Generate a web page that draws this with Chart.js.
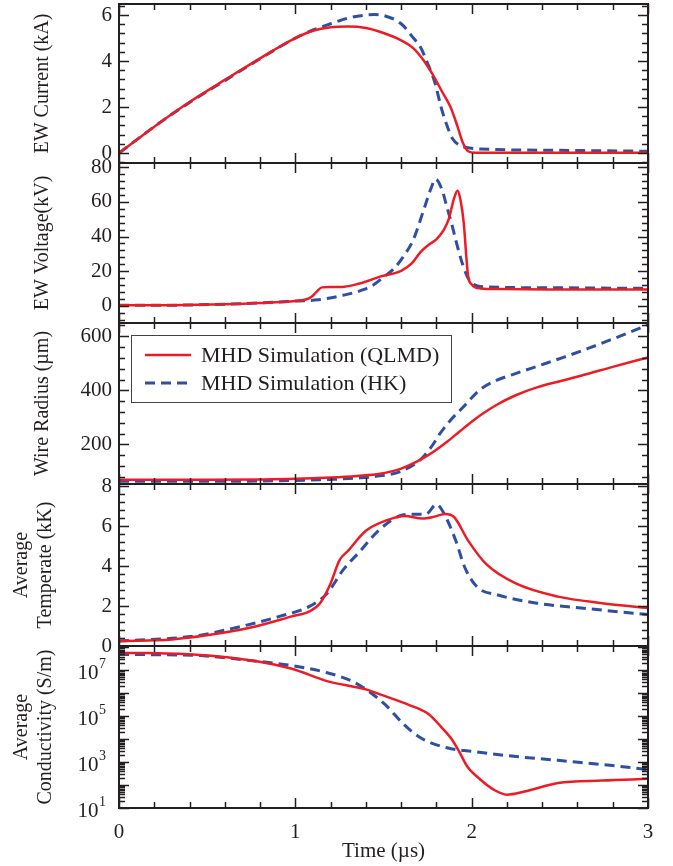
<!DOCTYPE html>
<html>
<head>
<meta charset="utf-8">
<script src="https://cdn.jsdelivr.net/npm/chart.js@4.4.0/dist/chart.umd.min.js"></script>
<style>
  body { margin: 0; background: #fff; width: 673px; height: 866px; overflow: hidden; }
  canvas { position: absolute; left: 0; }
</style>
</head>
<body>
<script>
// time axis (µs)
const xTicks = [0, 1, 2, 3];

// EW current (kA)
const tCurQ = [0, 0.2, 0.4, 0.6, 0.8, 1.0, 1.1, 1.2, 1.3, 1.4, 1.5, 1.6, 1.67, 1.73, 1.78, 1.83, 1.88, 1.92, 1.95, 1.98, 2.02, 2.2, 2.6, 3.0];
const curQ  = [0, 1.15, 2.22, 3.18, 4.12, 5.0, 5.32, 5.47, 5.5, 5.44, 5.22, 4.9, 4.55, 4.0, 3.4, 2.7, 2.0, 1.15, 0.45, 0.08, 0.02, 0.02, 0.02, 0.02];
const tCurH = [0, 0.2, 0.4, 0.6, 0.8, 1.0, 1.1, 1.2, 1.3, 1.4, 1.45, 1.5, 1.6, 1.67, 1.71, 1.75, 1.79, 1.83, 1.86, 1.89, 1.93, 1.97, 2.05, 2.5, 3.0];
const curH  = [0, 1.15, 2.2, 3.15, 4.1, 5.0, 5.35, 5.62, 5.87, 6.0, 6.02, 5.98, 5.62, 5.0, 4.6, 3.9, 3.1, 1.9, 1.2, 0.65, 0.35, 0.24, 0.18, 0.12, 0.08];
const curTicks = [0, 2, 4, 6];

// EW voltage (kV)
const tVolQ = [0, 0.3, 0.6, 0.8, 1.0, 1.06, 1.09, 1.12, 1.15, 1.2, 1.28, 1.34, 1.41, 1.48, 1.6, 1.66, 1.71, 1.76, 1.8, 1.84, 1.87, 1.9, 1.92, 1.935, 1.955, 1.97, 1.98, 2.0, 2.05, 2.15, 2.5, 3.0];
const volQ  = [0.2, 0.3, 0.8, 1.5, 2.7, 3.6, 5, 8, 10.6, 10.8, 11, 12.2, 14.3, 16.8, 20.2, 24.5, 31, 35.5, 38.4, 43.5, 50, 62, 66.4, 62, 48, 28, 17, 12.3, 10, 9.6, 9.4, 9.3];
const tVolH = [0, 0.3, 0.6, 0.8, 1.0, 1.13, 1.27, 1.39, 1.45, 1.5, 1.56, 1.62, 1.67, 1.73, 1.77, 1.795, 1.83, 1.86, 1.89, 1.92, 1.95, 1.99, 2.07, 2.4, 3.0];
const volH  = [0.2, 0.3, 0.9, 1.6, 2.7, 3.4, 6.0, 9.4, 12.5, 16.5, 21.5, 29.5, 38.4, 56, 68, 73.2, 67.5, 57, 46, 34, 23.5, 14.3, 11, 10.4, 10];
const volTicks = [0, 20, 40, 60, 80];

// wire radius (µm)
const tRadQ = [0, 0.5, 0.8, 1.0, 1.2, 1.35, 1.48, 1.6, 1.71, 1.79, 1.86, 1.93, 2.0, 2.07, 2.14, 2.25, 2.37, 2.5, 2.62, 2.8, 3.0];
const radQ  = [70, 70, 71, 73, 78, 84, 92, 111, 144, 176, 210, 247, 284, 317, 346, 382, 411, 434, 454, 487, 522];
const tRadH = [0, 0.5, 0.8, 1.0, 1.2, 1.35, 1.48, 1.6, 1.71, 1.77, 1.82, 1.88, 1.94, 2.05, 2.14, 2.24, 2.38, 2.52, 2.66, 2.8, 3.0];
const radH  = [64, 64, 65, 67, 71, 76, 84, 101, 144, 190, 240, 290, 330, 404, 437, 460, 491, 522, 555, 590, 642];
const radTicks = [200, 400, 600];

// average temperature (kK)
const tTemQ = [0, 0.3, 0.59, 0.78, 0.98, 1.08, 1.14, 1.2, 1.25, 1.3, 1.4, 1.52, 1.62, 1.72, 1.79, 1.85, 1.9, 1.98, 2.08, 2.25, 2.49, 2.74, 3.0];
const temQ  = [0.25, 0.33, 0.66, 0.99, 1.48, 1.73, 2.14, 3.13, 4.28, 4.77, 5.76, 6.29, 6.5, 6.37, 6.47, 6.6, 6.45, 5.27, 4.12, 3.13, 2.47, 2.14, 1.9];
const tTemH = [0, 0.42, 0.66, 0.91, 1.08, 1.18, 1.27, 1.37, 1.47, 1.59, 1.66, 1.74, 1.8, 1.835, 1.91, 1.96, 2.03, 2.15, 2.37, 2.62, 3.0];
const temH  = [0.25, 0.49, 0.91, 1.48, 1.98, 2.63, 3.79, 4.77, 5.76, 6.5, 6.59, 6.59, 7.08, 6.75, 5.27, 3.95, 2.96, 2.55, 2.14, 1.9, 1.57];
const temTicks = [0, 2, 4, 6, 8];

// average conductivity (S/m)
const tConQ = [0, 0.42, 0.78, 0.98, 1.18, 1.4, 1.48, 1.64, 1.76, 1.824, 1.889, 1.93, 1.974, 2.049, 2.125, 2.2, 2.3, 2.49, 2.74, 3.0];
const conQ  = [5.9e7, 4.9e7, 2.5e7, 1.17e7, 3.4e6, 1.48e6, 8.9e5, 3.2e5, 1.17e5, 3.6e4, 9.5e3, 2.8e3, 660, 174, 63, 38, 52, 123, 158, 186];
const tConH = [0, 0.42, 0.78, 0.98, 1.18, 1.32, 1.4, 1.51, 1.615, 1.71, 1.86, 2.0, 2.24, 2.49, 2.62, 2.8, 3.0];
const conH  = [4.9e7, 4.5e7, 2.5e7, 1.62e7, 7.9e6, 3.4e6, 1.48e6, 3.2e5, 4.4e4, 1.15e4, 4.2e3, 2.95e3, 1.78e3, 1.2e3, 955, 708, 468];
const conTicks = [1e1, 1e3, 1e5, 1e7];

const RED = '#ed1c24';
const BLUE = '#2e4fa2';
const INK = '#231f20';
const FONT = '"Liberation Serif", "Times New Roman", serif';

// panel edges (px) and extra room round each canvas
const E = [4, 163, 323, 484, 646, 808];
const PAD = 14;

const pts = (t, v) => t.map((x, i) => ({ x: x, y: v[i] }));

// frame with inward ticks, log tick labels and boxed legend
const frame = {
  id: 'frame',
  afterDatasetsDraw(chart, args, o) {
    const { ctx, chartArea: a, scales: { x, y } } = chart;
    ctx.save();
    ctx.strokeStyle = INK;
    ctx.lineWidth = 1.5;
    ctx.beginPath();
    for (let i = 0; i <= 15; i++) {
      const px = Math.round(x.getPixelForValue(i * 0.2)) + 0.5;
      const len = i % 5 === 0 ? 10 : 6;
      ctx.moveTo(px, a.top); ctx.lineTo(px, a.top + len);
      ctx.moveTo(px, a.bottom); ctx.lineTo(px, a.bottom - len);
    }
    const yt = [];
    if (o.log) {
      for (let d = 1; d <= 8; d++) {
        for (let k = 1; k <= 9; k++) {
          const v = k * Math.pow(10, d);
          if (v >= y.min && v <= y.max) yt.push([v, k === 1]);
        }
      }
    } else {
      const first = Math.ceil(y.min / o.minor - 1e-9);
      for (let j = first; j * o.minor <= y.max + 1e-9; j++) {
        const v = j * o.minor;
        yt.push([v, Math.abs(v / o.major - Math.round(v / o.major)) < 1e-6]);
      }
    }
    yt.forEach(([v, major]) => {
      const py = Math.round(y.getPixelForValue(v)) + 0.5;
      const len = major ? 10 : 6;
      ctx.moveTo(a.left, py); ctx.lineTo(a.left + len, py);
      ctx.moveTo(a.right, py); ctx.lineTo(a.right - len, py);
    });
    ctx.stroke();
    ctx.lineWidth = 2;
    ctx.strokeRect(a.left, a.top, a.right - a.left, a.bottom - a.top);

    if (o.log) {
      ctx.fillStyle = INK;
      ctx.textAlign = 'right';
      ctx.textBaseline = 'middle';
      o.labels.forEach(v => {
        const py = y.getPixelForValue(v);
        const e = String(Math.round(Math.log10(v)));
        ctx.font = '14px ' + FONT;
        const ew = ctx.measureText(e).width;
        const xr = a.left - 13;
        ctx.fillText(e, xr, py - 6);
        ctx.font = '21px ' + FONT;
        ctx.fillText('10', xr - ew - 0.5, py + 3);
      });
    }

    if (o.legend) {
      const L = a.left + 12, T = a.top + 12;
      ctx.lineWidth = 1;
      ctx.strokeStyle = '#444';
      ctx.strokeRect(L + 0.5, T + 0.5, 320, 67);
      ctx.font = '22px ' + FONT;
      ctx.textAlign = 'left';
      ctx.textBaseline = 'middle';
      chart.data.datasets.forEach((ds, i) => {
        const ry = T + 20 + i * 28;
        ctx.strokeStyle = ds.borderColor;
        ctx.lineWidth = ds.borderWidth;
        ctx.setLineDash(ds.borderDash || []);
        ctx.beginPath();
        ctx.moveTo(L + 14, ry); ctx.lineTo(L + 60, ry);
        ctx.stroke();
        ctx.setLineDash([]);
        ctx.fillStyle = INK;
        ctx.fillText(ds.label, L + 70, ry + 1);
      });
    }
    ctx.restore();
  }
};

function panel(i, o) {
  const last = i === 4;
  const top = E[i] - PAD;
  const h = last ? 866 - top : E[i + 1] - E[i] + 2 * PAD;
  const cv = document.createElement('canvas');
  cv.width = 673;
  cv.height = h;
  cv.style.top = top + 'px';
  document.body.appendChild(cv);

  new Chart(cv, {
    type: 'line',
    data: {
      datasets: [
        { label: 'MHD Simulation (QLMD)', data: pts(o.tq, o.q), borderColor: RED, borderWidth: 2.5 },
        { label: 'MHD Simulation (HK)', data: pts(o.th, o.h), borderColor: BLUE, borderWidth: 3, borderDash: [10, 6] }
      ]
    },
    options: {
      responsive: false,
      animation: false,
      devicePixelRatio: 1,
      layout: { padding: { top: PAD, bottom: last ? 0 : PAD, left: 0, right: 25 } },
      elements: {
        point: { radius: 0 },
        line: { cubicInterpolationMode: 'monotone', fill: false }
      },
      plugins: {
        legend: { display: false },
        tooltip: { enabled: false },
        frame: { log: !!o.log, major: o.major, minor: o.minor, labels: o.ticks, legend: !!o.legend }
      },
      scales: {
        x: {
          type: 'linear', min: 0, max: 3, display: last,
          grid: { display: false, drawTicks: false },
          border: { display: false },
          afterBuildTicks: s => { s.ticks = xTicks.map(v => ({ value: v })); },
          afterFit: s => {
            if (!last) return;
            s.height = 866 - E[5]; s.paddingLeft = 0; s.paddingRight = 0;
          },
          ticks: { font: { family: FONT, size: 21 }, color: INK, padding: 12, maxRotation: 0, autoSkip: false },
          title: { display: true, text: 'Time (µs)', font: { family: FONT, size: 21 }, color: INK, padding: { top: 0, bottom: 2 } }
        },
        y: {
          type: o.log ? 'logarithmic' : 'linear',
          min: o.min, max: o.max,
          grid: { display: false, drawTicks: false },
          border: { display: false },
          afterBuildTicks: s => { s.ticks = o.ticks.map(v => ({ value: v })); },
          afterFit: s => { s.width = 119; s.paddingTop = 0; s.paddingBottom = 0; },
          ticks: { display: !o.log, font: { family: FONT, size: 21 }, color: INK, padding: 7, autoSkip: false },
          title: {
            display: true, text: o.title, color: INK,
            font: { family: FONT, size: 20, lineHeight: 1.2 },
            padding: { top: Array.isArray(o.title) ? 10 : 31, bottom: 0 }
          }
        }
      }
    },
    plugins: [frame]
  });
}

panel(0, { tq: tCurQ, q: curQ, th: tCurH, h: curH, ticks: curTicks, min: -0.43, max: 6.48, major: 2, minor: 0.4, title: 'EW Current (kA)' });
panel(1, { tq: tVolQ, q: volQ, th: tVolH, h: volH, ticks: volTicks, min: -10, max: 82.5, major: 20, minor: 4, title: 'EW Voltage(kV)' });
panel(2, { tq: tRadQ, q: radQ, th: tRadH, h: radH, ticks: radTicks, min: 54, max: 649, major: 200, minor: 40, title: 'Wire Radius (µm)', legend: true });
panel(3, { tq: tTemQ, q: temQ, th: tTemH, h: temH, ticks: temTicks, min: 0, max: 8.1, major: 2, minor: 0.4, title: ['Average', 'Temperate (kK)'] });
panel(4, { tq: tConQ, q: conQ, th: tConH, h: conH, ticks: conTicks, min: 10, max: 1.15e8, log: true, title: ['Average', 'Conductivity (S/m)'] });
</script>
</body>
</html>
